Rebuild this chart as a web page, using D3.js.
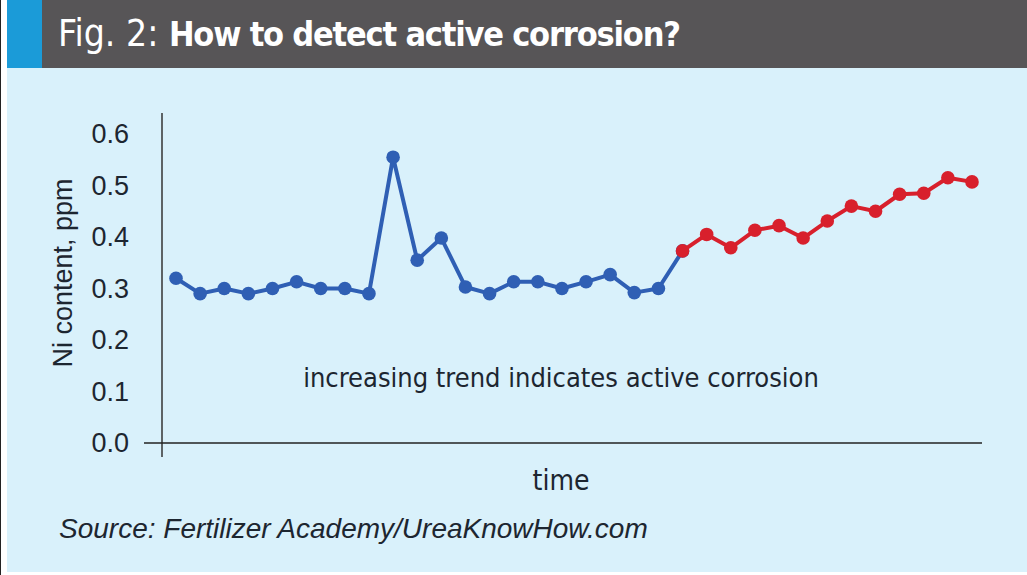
<!DOCTYPE html>
<html>
<head>
<meta charset="utf-8">
<script src="https://cdn.jsdelivr.net/npm/d3@7"></script>
<style>
  body { margin: 0; background: #fff; }
  svg { display: block; }
</style>
</head>
<body>
<svg id="chart"></svg>
<script>
// Ni content (ppm) per sample
let baseline = [0.32, 0.29, 0.30, 0.29, 0.30, 0.313, 0.30, 0.30, 0.29, 0.555,
                0.355, 0.398, 0.303, 0.29, 0.313, 0.313, 0.30, 0.313, 0.327, 0.292, 0.30];
let trend = [0.373, 0.405, 0.379, 0.413, 0.422, 0.398, 0.431, 0.46, 0.45, 0.483, 0.485, 0.515, 0.507];
let yTicks = [0, 0.1, 0.2, 0.3, 0.4, 0.5, 0.6];

let title1 = "Fig. 2: ";
let title2 = "How to detect active corrosion?";
let yLabel = "Ni content, ppm";
let xLabel = "time";
let note = "increasing trend indicates active corrosion";
let source = "Source: Fertilizer Academy/UreaKnowHow.com";

let w = 1027;
let h = 575;
let narrow = "'Liberation Sans Narrow', 'DejaVu Sans Condensed', sans-serif";
let plain = "'Liberation Sans', Arial, sans-serif";

let all = baseline.concat(trend);
let blueData = all.slice(0, baseline.length + 1).map((v, i) => ({ i: i, v: v }));
let redData = trend.map((v, i) => ({ i: i + baseline.length, v: v }));

let svg = d3.select("#chart").attr("width", w).attr("height", h);

// frame
svg.append("rect").attr("x", 0).attr("y", 0).attr("width", 1).attr("height", h).attr("fill", "#222");
svg.append("rect").attr("x", 7).attr("y", 0).attr("width", w - 7).attr("height", 572).attr("fill", "#d9f1fb");
svg.append("rect").attr("x", 7).attr("y", 0).attr("width", w - 7).attr("height", 68).attr("fill", "#575557");
svg.append("rect").attr("x", 7).attr("y", 0).attr("width", 35).attr("height", 68).attr("fill", "#1b9bd8");

let title = svg.append("text")
  .attr("x", 58)
  .attr("y", 46)
  .attr("fill", "#fff")
  .style("font-family", narrow)
  .style("font-size", "37px");
title.append("tspan").text(title1);
title.append("tspan")
  .attr("font-weight", "bold")
  .style("font-size", "34px")
  .style("letter-spacing", "-1.2px")
  .text(title2);

let x = d3.scaleLinear()
  .domain([0, all.length - 1])
  .range([176, 972]);

let y = d3.scaleLinear()
  .domain([0, 0.6])
  .range([443, 134]);

// axes lines
svg.append("line")
  .attr("x1", 162).attr("x2", 162)
  .attr("y1", y(0.6) - 21).attr("y2", y(0) + 14)
  .attr("stroke", "#333").attr("stroke-width", 1.5);
svg.append("line")
  .attr("x1", 144).attr("x2", 982)
  .attr("y1", y(0)).attr("y2", y(0))
  .attr("stroke", "#222").attr("stroke-width", 1.5);

let yAxis = d3.axisLeft(y)
  .tickValues(yTicks)
  .tickFormat(d3.format(".1f"))
  .tickSize(0)
  .tickPadding(0);

let gy = svg.append("g")
  .attr("transform", "translate(129,0)")
  .call(yAxis);
gy.select(".domain").remove();
gy.selectAll("text")
  .attr("fill", "#1d2630")
  .style("font-family", plain)
  .style("font-size", "27px");

svg.append("text")
  .attr("transform", "translate(72," + 273 + ") rotate(-90)")
  .attr("text-anchor", "middle")
  .attr("fill", "#1d2630")
  .style("font-family", plain)
  .style("font-size", "27px")
  .text(yLabel);

let line = d3.line()
  .x(d => x(d.i))
  .y(d => y(d.v));

function drawSeries(data, color) {
  svg.append("path")
    .datum(data)
    .attr("d", line)
    .attr("fill", "none")
    .attr("stroke", color)
    .attr("stroke-width", 4)
    .attr("stroke-linejoin", "round");
  svg.append("g")
    .selectAll("circle")
    .data(data)
    .enter()
    .append("circle")
    .attr("cx", d => x(d.i))
    .attr("cy", d => y(d.v))
    .attr("r", 6.8)
    .attr("fill", color);
}

drawSeries(blueData, "#2f5fb4");
drawSeries(redData, "#d8202c");

svg.append("text")
  .attr("x", 561)
  .attr("y", 387)
  .attr("text-anchor", "middle")
  .attr("fill", "#1d2630")
  .style("font-family", narrow)
  .style("font-size", "27px")
  .text(note);

svg.append("text")
  .attr("x", 561)
  .attr("y", 490)
  .attr("text-anchor", "middle")
  .attr("fill", "#1d2630")
  .style("font-family", narrow)
  .style("font-size", "28px")
  .text(xLabel);

svg.append("text")
  .attr("x", 59)
  .attr("y", 538)
  .attr("fill", "#1d2630")
  .style("font-family", plain)
  .style("font-style", "italic")
  .style("font-size", "28px")
  .text(source);
</script>
</body>
</html>
